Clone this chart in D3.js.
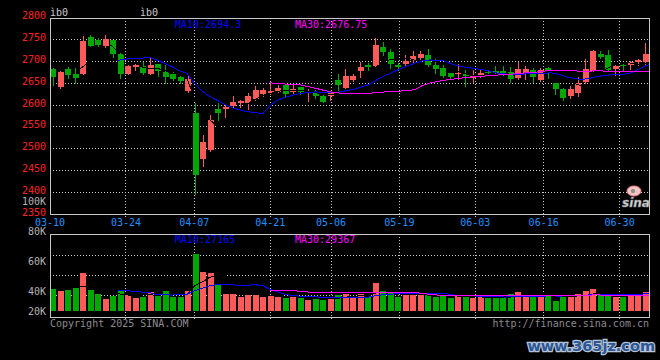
<!DOCTYPE html>
<html><head><meta charset="utf-8">
<script src="https://cdn.jsdelivr.net/npm/d3@7/dist/d3.min.js"></script>
<style>body{margin:0;background:#000;}svg{display:block;}</style>
</head><body>
<script>
const dates = ["03-10","03-11","03-12","03-13","03-14","03-17","03-18","03-19","03-20","03-21","03-24","03-25","03-26","03-27","03-28","03-31",
"04-01","04-02","04-03","04-07","04-08","04-09","04-10","04-11","04-14","04-15","04-16","04-17","04-18","04-21","04-22","04-23","04-24","04-25","04-28","04-29","04-30",
"05-06","05-07","05-08","05-09","05-12","05-13","05-14","05-15","05-16","05-19","05-20","05-21","05-22","05-23","05-26","05-27","05-28","05-29","05-30",
"06-03","06-04","06-05","06-06","06-09","06-10","06-11","06-12","06-13","06-16","06-17","06-18","06-19","06-20","06-23","06-24","06-25","06-26","06-27","06-30",
"07-01","07-02","07-03","07-04"];
const open  = [2682,2641,2682,2671,2671,2755,2748,2735,2748,2716,2671,2687,2689,2671,2694,2675,2671,2664,2632,2582,
2477,2497,2591,2591,2598,2605,2605,2614,2625,2628,2630,2646,2630,2641,2628,2627,2621,2621,2657,2639,
2657,2678,2691,2689,2732,2721,2691,2694,2703,2707,2714,2691,2685,2673,2671,2671,2662,2666,2675,2678,
2677,2675,2662,2671,2680,2657,2685,2650,2637,2621,2627,2652,2678,2716,2714,2682,2691,2691,2698,2698];
const high  = [2685,2677,2688,2685,2758,2760,2753,2760,2749,2721,2692,2694,2698,2710,2695,2691,2675,2669,2669,2605,
2532,2577,2605,2602,2621,2612,2627,2643,2639,2650,2646,2647,2648,2642,2636,2634,2622,2631,2671,2682,
2670,2698,2696,2753,2744,2728,2696,2714,2723,2723,2728,2705,2691,2674,2694,2680,2680,2682,2680,2689,
2689,2687,2698,2689,2685,2685,2686,2651,2638,2643,2664,2705,2726,2723,2726,2691,2694,2701,2705,2742];
const low   = [2646,2640,2662,2650,2670,2734,2735,2733,2710,2662,2670,2680,2671,2670,2667,2650,2657,2650,2631,2397,
2461,2495,2566,2573,2593,2593,2591,2612,2621,2625,2629,2621,2625,2626,2609,2616,2606,2612,2634,2638,
2656,2664,2680,2687,2714,2684,2680,2689,2698,2700,2689,2673,2664,2661,2659,2643,2652,2665,2668,2668,
2668,2652,2660,2659,2652,2656,2662,2625,2611,2616,2621,2651,2677,2707,2678,2669,2678,2682,2691,2691];
const close = [2664,2676,2668,2662,2746,2735,2737,2751,2716,2671,2689,2691,2673,2691,2679,2664,2659,2655,2659,2440,
2515,2566,2582,2595,2607,2609,2621,2634,2634,2632,2639,2625,2637,2630,2629,2621,2607,2630,2646,2666,
2666,2687,2687,2737,2721,2694,2687,2700,2712,2716,2691,2682,2666,2664,2673,2666,2666,2673,2673,2673,
2673,2659,2682,2682,2664,2680,2680,2637,2616,2637,2650,2682,2723,2710,2680,2689,2689,2698,2703,2716];
const volume = [41100,39800,40500,41800,51800,40500,37800,34500,36500,40500,37100,35100,35800,39100,37100,39800,35800,35800,39800,64500,
52500,51800,43800,38000,38000,36000,37000,38000,36000,37000,36000,35000,36000,35000,34000,35000,34000,35000,37000,38000,
36000,38000,36000,45000,40000,39000,36000,37000,37000,38000,37000,36000,37000,35000,37000,36000,35000,36000,35000,35000,
36000,38000,39000,37000,36000,37000,38000,33000,37000,37000,38000,40000,41000,38000,38000,36000,36000,37000,37000,39000];
const priceTicks = [2800,2750,2700,2650,2600,2550,2500,2450,2400,2350];
const volTicks = [100000,80000,60000,40000,20000];
const volTickLabels = ["100K","80K","60K","40K","20K"];
const dateTicks = ["03-10","03-24","04-07","04-21","05-06","05-19","06-03","06-16","06-30"];
const priceLegend = ["MA10:2694.3","MA30:2676.75"];
const volLegend = ["MA10:27165","MA30:29367"];
const topLabels = ["ìb0","ìb0"];

const RED="#ff5a5a", GREEN="#00a800", GRID="#c8c8c8", FONT="DejaVu Sans Mono, monospace";
const svg = d3.select("body").append("svg").attr("width",660).attr("height",360);
svg.append("rect").attr("width",660).attr("height",360).attr("fill","#000");

const idx = d3.range(dates.length);
const xb = d3.scaleBand().domain(idx).range([50,650]);
const xg = d3.scalePoint().domain(idx).range([50,650]);
const y = d3.scaleLinear().domain([2350,2800]).range([214.5,17.6]);
const vy = d3.scaleLinear().domain([26500,100000]).range([311,200.7]).clamp(true);
const px = v => Math.floor(v)+0.5;

const g = svg.append("g").attr("shape-rendering","crispEdges");
g.selectAll(".hg").data(priceTicks.slice(1,-1)).join("line")
  .attr("x1",50).attr("x2",650).attr("y1",d=>px(y(d))).attr("y2",d=>px(y(d)))
  .attr("stroke",GRID).attr("stroke-dasharray","1,2");
const tickIdx = dateTicks.map(d=>dates.indexOf(d));
g.selectAll(".vg").data(tickIdx.slice(1)).join("line")
  .attr("x1",d=>px(xg(d))).attr("x2",d=>px(xg(d))).attr("y1",18).attr("y2",218)
  .attr("stroke",GRID).attr("stroke-dasharray","1,2");
const vTop=234, vBot=317;
g.selectAll(".vhg").data([1,2,3]).join("line")
  .attr("x1",50).attr("x2",650).attr("y1",d=>vTop+20*d+1.5).attr("y2",d=>vTop+20*d+1.5)
  .attr("stroke",GRID).attr("stroke-dasharray","1,2");
g.selectAll(".vvg").data(tickIdx.slice(1)).join("line")
  .attr("x1",d=>px(xg(d))).attr("x2",d=>px(xg(d))).attr("y1",vTop).attr("y2",321)
  .attr("stroke",GRID).attr("stroke-dasharray","1,2");

const up = i => close[i]>=open[i];
g.selectAll(".wick").data(idx).join("line")
  .attr("x1",i=>px(xb(i)+3)).attr("x2",i=>px(xb(i)+3))
  .attr("y1",i=>Math.round(y(high[i]))).attr("y2",i=>Math.round(y(low[i]))+1)
  .attr("stroke",i=>up(i)?RED:GREEN);
g.selectAll(".body").data(idx).join("rect")
  .attr("x",i=>Math.round(xb(i))).attr("width",6)
  .attr("y",i=>Math.round(y(Math.max(open[i],close[i]))))
  .attr("height",i=>Math.max(1,Math.round(y(Math.min(open[i],close[i])))-Math.round(y(Math.max(open[i],close[i])))))
  .attr("fill",i=>up(i)?RED:GREEN);
g.selectAll(".vbar").data(idx).join("rect")
  .attr("x",i=>Math.round(xb(i))).attr("width",6)
  .attr("y",i=>Math.round(vy(volume[i]))).attr("height",i=>Math.round(vy.range()[0])-Math.round(vy(volume[i])))
  .attr("fill",i=>up(i)?RED:GREEN);

function ma(arr,n){return idx.map(i=>i<n-1?null:d3.mean(arr.slice(i-n+1,i+1)));}
const lines=[[5,"#000"],[10,"#0000ff"],[30,"#ff00ff"]];
lines.forEach(([n,c])=>{
  const m=ma(close,n);
  g.append("path").attr("fill","none").attr("stroke",c)
   .attr("d",d3.line().defined(i=>m[i]!=null).x(i=>xg(i)).y(i=>y(m[i]))(idx));
  const mv=ma(volume,n);
  g.append("path").attr("fill","none").attr("stroke",c)
   .attr("d",d3.line().defined(i=>mv[i]!=null).x(i=>xg(i)).y(i=>vy(mv[i]))(idx));
});

g.append("path").attr("fill","none").attr("stroke",GRID)
  .attr("d","M50.5,214.5V18.5H649.5V214.5H50.5");
g.append("path").attr("fill","none").attr("stroke",GRID)
  .attr("d",`M50.5,${vBot+0.5}V${vTop+0.5}H649.5V${vBot+0.5}H50.5`);

const t = svg.append("g").attr("font-family",FONT).attr("font-size",10);
t.selectAll(".pl").data(priceTicks).join("text")
  .attr("x",46).attr("y",d=>y(d)-2).attr("text-anchor","end").attr("dominant-baseline","central")
  .attr("fill","#ff2020").text(d=>d);
t.selectAll(".vl").data(volTicks).join("text")
  .attr("x",46).attr("y",d=>vy(d)+0.5).attr("text-anchor","end").attr("dominant-baseline","central")
  .attr("fill","#b4b4b4").text((d,i)=>volTickLabels[i]);
t.selectAll(".dl").data(tickIdx).join("text")
  .attr("x",d=>xg(d)).attr("y",222).attr("text-anchor","middle").attr("dominant-baseline","central")
  .attr("fill","#1e90ff").text((d,i)=>dateTicks[i]);
t.selectAll(".lg").data(priceLegend).join("text")
  .attr("x",(d,i)=>175+i*120).attr("y",24).attr("dominant-baseline","central")
  .attr("fill",(d,i)=>i?"#ff00ff":"#0000ff").text(d=>d);
t.selectAll(".vlg").data(volLegend).join("text")
  .attr("x",(d,i)=>175+i*120).attr("y",239).attr("dominant-baseline","central")
  .attr("fill",(d,i)=>i?"#ff00ff":"#0000ff").text(d=>d);
t.selectAll(".tl").data(topLabels).join("text")
  .attr("x",(d,i)=>50+i*90).attr("y",12).attr("dominant-baseline","central")
  .attr("fill","#c8c8c8").text(d=>d);
t.append("text").attr("x",50).attr("y",323.5).attr("dominant-baseline","central").attr("fill","#8c8c8c").text("Copyright 2025 SINA.COM");
t.append("text").attr("x",649).attr("y",323.5).attr("text-anchor","end").attr("dominant-baseline","central").attr("fill","#8c8c8c").text("http://finance.sina.com.cn");

const lg = svg.append("g");
lg.append("ellipse").attr("cx",634).attr("cy",191).attr("rx",7).attr("ry",5).attr("fill","#f4c4c4").attr("stroke","#f08080");
lg.append("circle").attr("cx",633).attr("cy",191).attr("r",2.2).attr("fill","#909090");
lg.append("text").attr("x",636).attr("y",207).attr("text-anchor","middle").attr("font-family","DejaVu Sans, sans-serif")
  .attr("font-weight","bold").attr("font-style","italic").attr("font-size",12).attr("fill","#d8d8d8").attr("stroke","#888").attr("stroke-width",0.5).text("sina");
svg.append("text").attr("x",655).attr("y",351).attr("text-anchor","end").attr("font-family","DejaVu Sans, sans-serif")
  .attr("font-weight","bold").attr("font-size",14.5).attr("fill","#2a5795").attr("stroke","#b8c4d8").attr("stroke-width",2.5)
  .attr("paint-order","stroke").text("www.365jz.com");
</script>
</body></html>
